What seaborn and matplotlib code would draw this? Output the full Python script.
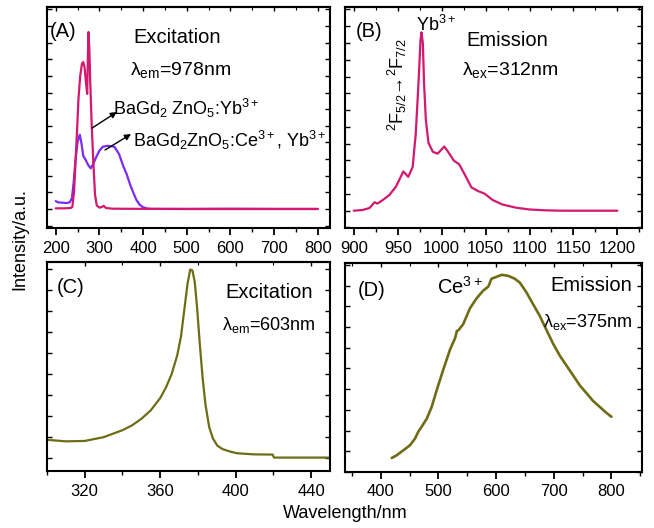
import matplotlib
matplotlib.use("Agg")
import matplotlib.pyplot as plt
from matplotlib.ticker import MultipleLocator, NullFormatter
import seaborn as sns
import pandas as pd

# ---------------- data ----------------
# (A) excitation, monitored at 978 nm
a_yb_x = [200, 220, 234, 238, 242, 246, 249, 252, 256, 260, 263, 266, 269, 272, 273.5,
          275, 277, 279, 282, 286, 290, 294, 300, 306, 310, 315, 330, 400, 500, 600, 700, 800]
a_yb_y = [0.004, 0.004, 0.006, 0.012, 0.10, 0.30, 0.45, 0.62, 0.75, 0.82, 0.83, 0.80, 0.72, 0.65, 0.85,
          1.00, 0.90, 0.72, 0.50, 0.27, 0.08, 0.02, 0.008, 0.012, 0.018, 0.006, 0.002, 0.001, 0.0, 0.0, 0.0, 0.0]
a_ce_x = [200, 205, 215, 225, 232, 237, 241, 245, 250, 255, 259, 263, 268, 274, 280, 285, 292, 300,
          308, 318, 328, 335, 345, 355, 362, 370, 378, 385, 392, 400, 410, 420, 500, 600, 700, 800]
a_ce_y = [0.045, 0.038, 0.036, 0.034, 0.038, 0.06, 0.15, 0.27, 0.38, 0.42, 0.37, 0.30, 0.28, 0.25, 0.23,
          0.25, 0.29, 0.33, 0.352, 0.357, 0.355, 0.35, 0.31, 0.24, 0.20, 0.14, 0.09, 0.05, 0.025, 0.01,
          0.003, 0.001, 0.001, 0.002, 0.001, 0.001]

# (B) emission, excited at 312 nm
b_x = [900, 910, 918, 923.5, 927, 933, 940.5, 948, 956.4, 962, 967, 970.5, 973.6, 975.9, 977, 978.6,
       980, 982, 985, 990, 995.5, 1003, 1008.7, 1014, 1020, 1026, 1034, 1041.5, 1049, 1058, 1069,
       1084.5, 1099.6, 1118.6, 1137.5, 1200]
b_y = [0.0, 0.004, 0.015, 0.047, 0.04, 0.06, 0.088, 0.135, 0.22, 0.19, 0.245, 0.43, 0.71, 0.955, 1.0,
       0.94, 0.71, 0.51, 0.38, 0.33, 0.32, 0.36, 0.32, 0.28, 0.26, 0.205, 0.13, 0.11, 0.095, 0.06,
       0.035, 0.017, 0.007, 0.002, 0.0, 0.0]

# (C) excitation, monitored at 603 nm
c_x = [300, 310, 320, 330, 340, 345, 350, 355, 360, 363, 366, 369, 371, 373, 374.5, 375.9, 377.1,
       378.3, 379.5, 381, 382.5, 384, 386, 388, 390.3, 393, 397, 400.7, 409.5, 419.6, 420.3, 440, 450]
c_y = [0.094, 0.086, 0.088, 0.108, 0.145, 0.17, 0.205, 0.25, 0.315, 0.37, 0.44, 0.54, 0.64, 0.80,
       0.92, 0.995, 0.99, 0.93, 0.80, 0.60, 0.42, 0.28, 0.16, 0.10, 0.063, 0.045, 0.032, 0.023,
       0.017, 0.016, 0.0, 0.0, 0.0]

# (D) emission, excited at 375 nm
d_x = [419, 427.7, 439.2, 450.8, 459.5, 465.2, 471, 479.7, 488.3, 497, 508.5, 520, 529, 532, 535,
       543, 554.6, 566, 577.6, 586.4, 592, 600.9, 609.5, 621, 632.6, 641.3, 652.8, 664.4, 676,
       687.4, 699, 710.5, 722, 733.6, 745, 756.7, 768.3, 779.8, 791.3, 800]
d_y = [0.071, 0.085, 0.11, 0.136, 0.17, 0.205, 0.23, 0.27, 0.33, 0.415, 0.52, 0.62, 0.68, 0.715, 0.72,
       0.75, 0.83, 0.88, 0.92, 0.94, 0.98, 0.99, 1.0, 0.995, 0.98, 0.96, 0.91, 0.85, 0.79,
       0.72, 0.65, 0.59, 0.54, 0.49, 0.44, 0.40, 0.36, 0.33, 0.30, 0.28]

MAGENTA = "#d3186f"
BLUE = "#7a2cf2"
OLIVE = "#6f6c16"

# ---------------- style ----------------
sns.set_style("ticks")
plt.rcParams["font.family"] = ["Liberation Sans", "DejaVu Sans"]
plt.rcParams["mathtext.fontset"] = "custom"
plt.rcParams["mathtext.rm"] = "Liberation Sans"
plt.rcParams["mathtext.it"] = "Liberation Sans:italic"
plt.rcParams["mathtext.bf"] = "Liberation Sans:bold"
plt.rcParams["text.color"] = "black"
plt.rcParams["xtick.color"] = "black"
plt.rcParams["ytick.color"] = "black"
plt.rcParams["xtick.labelcolor"] = "black"

W, H = 654, 528
fig = plt.figure(figsize=(W / 100, H / 100), dpi=100)


def make_ax(l, r, t, b):
    return fig.add_axes([l / W, 1 - b / H, (r - l) / W, (b - t) / H])


axA = make_ax(47, 330, 7, 228)
axB = make_ax(345, 642, 7, 228)
axC = make_ax(47, 330, 262, 471)
axD = make_ax(345, 642, 263, 472)


def draw(ax, x, y, color, lw=1.6):
    df = pd.DataFrame({"x": x, "y": y})
    sns.lineplot(data=df, x="x", y="y", color=color, lw=lw, ax=ax, estimator=None)


draw(axA, a_ce_x, a_ce_y, BLUE)
draw(axA, a_yb_x, a_yb_y, MAGENTA)
draw(axB, b_x, b_y, MAGENTA)
draw(axC, c_x, c_y, OLIVE)
draw(axD, d_x, d_y, OLIVE, lw=1.9)

axA.set_xlim(180, 828)
axA.set_ylim(-0.107, 1.141)
axB.set_xlim(890, 1228)
axB.set_ylim(-0.097, 1.142)
axC.set_xlim(300, 450)
axC.set_ylim(-0.071, 1.035)
axD.set_xlim(338, 853)
axD.set_ylim(0, 1.06)

axA.xaxis.set_major_locator(MultipleLocator(100))
axA.xaxis.set_minor_locator(MultipleLocator(50))
axB.xaxis.set_major_locator(MultipleLocator(50))
axB.xaxis.set_minor_locator(MultipleLocator(25))
axC.xaxis.set_major_locator(MultipleLocator(40))
axC.xaxis.set_minor_locator(MultipleLocator(20))
axD.xaxis.set_major_locator(MultipleLocator(100))
axD.xaxis.set_minor_locator(MultipleLocator(50))
axA.yaxis.set_major_locator(MultipleLocator(0.094))
axB.yaxis.set_major_locator(MultipleLocator(0.094))
axC.yaxis.set_major_locator(MultipleLocator(0.111))
axD.yaxis.set_major_locator(MultipleLocator(0.105))

for ax in (axA, axB, axC, axD):
    ax.set_xlabel("")
    ax.set_ylabel("")
    for s in ax.spines.values():
        s.set_visible(True)
        s.set_linewidth(1.5)
        s.set_color("black")
    ax.yaxis.set_major_formatter(NullFormatter())
    ax.tick_params(axis="x", which="major", direction="out", length=5, width=1.3,
                   labelsize=12, pad=4, colors="black", top=False)
    ax.tick_params(axis="x", which="minor", direction="out", length=3, width=1.0,
                   colors="black", top=False)
    ax.tick_params(axis="y", which="major", direction="in", length=3.5, width=1.0,
                   left=True, right=True, colors="black")
    sec = ax.secondary_xaxis("top")
    sec.xaxis.set_major_locator(ax.xaxis.get_major_locator())
    sec.xaxis.set_minor_locator(ax.xaxis.get_minor_locator())
    sec.tick_params(which="major", direction="in", length=3, width=1.0, labeltop=False,
                    colors="black")
    sec.tick_params(which="minor", direction="in", length=2, width=0.8, colors="black")
    sec.spines["top"].set_linewidth(1.5)
    sec.spines["top"].set_color("black")

FS_T = 14.5
FS_L = 14
FS_S = 13
ARROW = dict(arrowstyle="-|>", color="black", lw=1.0, shrinkA=0, shrinkB=0, mutation_scale=9)

# Panel A texts
axA.text(0.011, 0.887, "(A)", transform=axA.transAxes, fontsize=FS_T, va="center", ha="left")
axA.text(0.304, 0.86, "Excitation", transform=axA.transAxes, fontsize=FS_T, va="center")
axA.text(0.293, 0.715, "λ$_{\\mathrm{em}}$=978nm", transform=axA.transAxes, fontsize=FS_L, va="center")
axA.text(0.233, 0.543, "BaGd$_2$ ZnO$_5$:Yb$^{3+}$", transform=axA.transAxes,
         fontsize=FS_S, va="center", ha="left", clip_on=False)
axA.annotate("", xy=(0.247, 0.525), xycoords="axes fraction",
             xytext=(0.159, 0.452), textcoords="axes fraction", arrowprops=ARROW)
axA.text(0.304, 0.398, "BaGd$_2$ZnO$_5$:Ce$^{3+}$, Yb$^{3+}$", transform=axA.transAxes,
         fontsize=FS_S, va="center", ha="left", clip_on=False)
axA.annotate("", xy=(0.297, 0.425), xycoords="axes fraction",
             xytext=(0.205, 0.353), textcoords="axes fraction", arrowprops=ARROW)

# Panel B texts
axB.text(0.037, 0.887, "(B)", transform=axB.transAxes, fontsize=FS_T, va="center")
axB.text(0.239, 0.918, "Yb$^{3+}$", transform=axB.transAxes, fontsize=FS_S, va="center")
axB.text(0.41, 0.85, "Emission", transform=axB.transAxes, fontsize=FS_T, va="center")
axB.text(0.394, 0.715, "λ$_{\\mathrm{ex}}$=312nm", transform=axB.transAxes, fontsize=FS_L, va="center")
axB.text(0.175, 0.647, "$^2$F$_{5/2}$→$^2$F$_{7/2}$", transform=axB.transAxes, fontsize=FS_S,
         rotation=90, va="center", ha="center")

# Panel C texts
axC.text(0.035, 0.88, "(C)", transform=axC.transAxes, fontsize=FS_T, va="center")
axC.text(0.629, 0.852, "Excitation", transform=axC.transAxes, fontsize=FS_T, va="center")
axC.text(0.618, 0.70, "λ$_{\\mathrm{em}}$=603nm", transform=axC.transAxes, fontsize=FS_S, va="center")

# Panel D texts
axD.text(0.044, 0.87, "(D)", transform=axD.transAxes, fontsize=FS_T, va="center")
axD.text(0.31, 0.885, "Ce$^{3+}$", transform=axD.transAxes, fontsize=FS_T, va="center")
axD.text(0.69, 0.89, "Emission", transform=axD.transAxes, fontsize=FS_T, va="center")
axD.text(0.667, 0.72, "λ$_{\\mathrm{ex}}$=375nm", transform=axD.transAxes, fontsize=FS_S, va="center")

fig.text(20 / W, 1 - 239 / H, "Intensity/a.u.", rotation=90, fontsize=13, va="center", ha="center")
fig.text(345 / W, 1 - 513 / H, "Wavelength/nm", fontsize=13, va="center", ha="center")

fig.savefig("out.png", dpi=100)
